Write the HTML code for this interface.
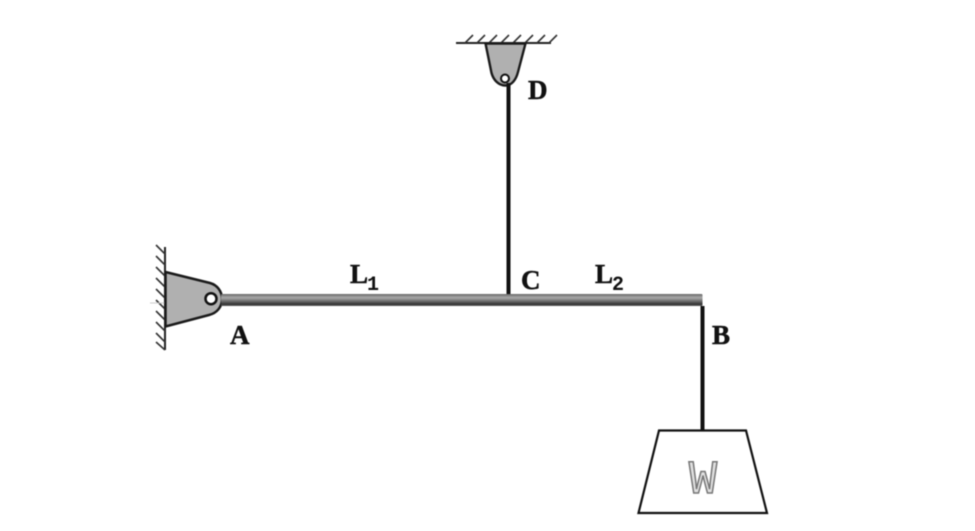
<!DOCTYPE html>
<html>
<head>
<meta charset="utf-8">
<style>
html,body{margin:0;padding:0;background:#fff;width:975px;height:531px;overflow:hidden}
svg{display:block;filter:blur(0.5px)}
text{fill:#111}
.l{font-family:"Liberation Serif",serif;font-weight:bold;font-size:27px;stroke:#111;stroke-width:0.5}
.s{font-family:"Liberation Mono",monospace;font-weight:bold;font-size:20px}
</style>
</head>
<body>
<svg width="975" height="531" viewBox="0 0 975 531" xmlns="http://www.w3.org/2000/svg">
<defs>
<linearGradient id="beam" x1="0" y1="0" x2="0" y2="1">
<stop offset="0" stop-color="#666"/>
<stop offset="0.3" stop-color="#aaa"/>
<stop offset="0.55" stop-color="#777"/>
<stop offset="0.85" stop-color="#333"/>
<stop offset="1" stop-color="#666"/>
</linearGradient>
</defs>
<!-- wall A -->
<line x1="165" y1="247" x2="165" y2="350" stroke="#222" stroke-width="2"/>
<path d="M156 246l9 9M156 257l9 9M156 268l9 9M156 279l9 9M156 290l9 9M156 301l9 9M156 312l9 9M156 323l9 9M156 334l9 9M156 343l9 8" stroke="#333" stroke-width="1.600" fill="none" transform="translate(0,-1)"/>
<line x1="150" y1="303" x2="165" y2="303" stroke="#ccc" stroke-width="1"/>
<!-- gusset A -->
<path d="M165.500 272 L210 283 C217 285 222 291 222 299 C222 307 217 313 209 315 L165.500 326.500 Z" fill="#b0b0b0" stroke="#1a1a1a" stroke-width="2.500"/>
<!-- beam -->
<rect x="221" y="294" width="481.500" height="12" rx="1" fill="url(#beam)"/>
<circle cx="211" cy="298.700" r="5.500" fill="#fff" stroke="#111" stroke-width="2.500"/>
<!-- ceiling D -->
<line x1="456" y1="43" x2="551" y2="43" stroke="#222" stroke-width="2"/>
<path d="M465 43l8-8M477 43l8-8M489 43l8-8M501 43l8-8M513 43l8-8M525 43l8-8M537 43l8-8M549 43l8-8" stroke="#333" stroke-width="1.600" fill="none"/>
<!-- gusset D -->
<path d="M485.500 43.500 L525.500 43.500 L518 72 C516 80 511.500 85.500 505.500 85.500 C498.500 85.500 493.500 80 491.500 73 Z" fill="#b0b0b0" stroke="#1a1a1a" stroke-width="2.400"/>
<circle cx="505" cy="78.500" r="4" fill="#fff" stroke="#111" stroke-width="2"/>
<!-- ropes -->
<line x1="508.500" y1="83" x2="508.500" y2="294" stroke="#111" stroke-width="4"/>
<line x1="702.500" y1="306" x2="702.500" y2="431" stroke="#111" stroke-width="4"/>
<!-- weight -->
<path d="M659 430.500 L746 430.500 L767 513 L638.500 513 Z" fill="#fff" stroke="#111" stroke-width="2.200"/>
<text x="703" y="493" font-size="47" text-anchor="middle" style="font-family:'Liberation Mono',monospace;fill:#e0e0e0;stroke:#777;stroke-width:1.500">W</text>
<!-- labels -->
<text class="l" x="230" y="344">A</text>
<text class="l" x="712" y="344">B</text>
<text class="l" x="521" y="289">C</text>
<text class="l" x="528" y="99">D</text>
<text class="l" x="350" y="283">L</text>
<text class="s" x="367" y="290">1</text>
<text class="l" x="595" y="283">L</text>
<text class="s" x="612" y="290">2</text>
</svg>
</body>
</html>
